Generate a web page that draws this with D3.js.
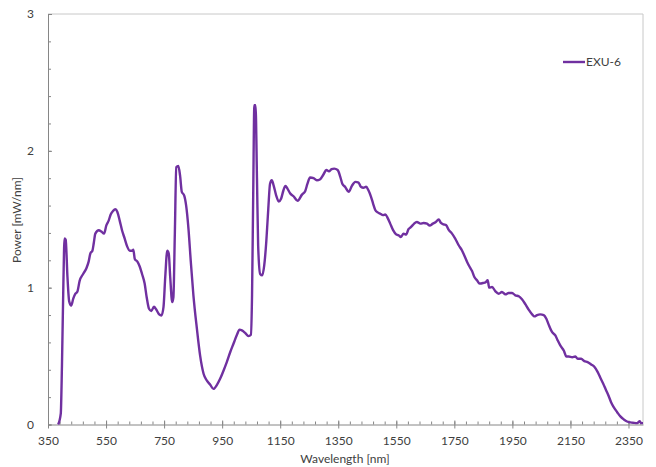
<!DOCTYPE html>
<html>
<head>
<meta charset="utf-8">
<script src="https://cdn.jsdelivr.net/npm/d3@7"></script>
<style>
  body { margin: 0; background: #fff; }
  svg text { font-family: Lato, "Liberation Sans", sans-serif; fill: #404040; }
</style>
</head>
<body>
<figure id="chart" style="margin:0"></figure>
<script>
// Spectrum
const wavelength = [385, 394, 398, 403, 407, 411, 417, 423, 430, 437, 444, 451, 459, 471, 482, 490, 496, 503, 508, 513,
  525, 534, 543, 551, 559, 566, 574, 582, 589, 597, 605, 614, 623, 632, 640, 644, 649, 658, 666, 674,
  683, 690, 698, 706, 715, 723, 733, 741, 748, 754, 761, 766, 771, 778, 782, 787, 792, 799, 805, 811,
  819, 826, 834, 842, 851, 863, 874, 886, 897, 909, 920, 932, 943, 955, 966, 978, 989, 1001, 1010, 1018,
  1029, 1041, 1049, 1053, 1057, 1061, 1065, 1070, 1074, 1081, 1088, 1095, 1102, 1109, 1115, 1121, 1127, 1136, 1145, 1153,
  1161, 1168, 1175, 1184, 1196, 1210, 1225, 1236, 1244, 1253, 1265, 1276, 1288, 1299, 1309, 1318, 1327, 1336, 1348, 1357,
  1364, 1374, 1386, 1397, 1409, 1420, 1428, 1437, 1446, 1454, 1463, 1470, 1478, 1486, 1495, 1504, 1512, 1520, 1529, 1539,
  1550, 1558, 1566, 1575, 1584, 1592, 1601, 1610, 1621, 1633, 1644, 1656, 1665, 1676, 1685, 1696, 1704, 1713, 1722, 1730,
  1742, 1753, 1765, 1776, 1784, 1794, 1803, 1811, 1819, 1828, 1837, 1849, 1858, 1865, 1870, 1880, 1891, 1903, 1914, 1926,
  1937, 1949, 1960, 1972, 1983, 1995, 2006, 2018, 2026, 2035, 2046, 2058, 2067, 2075, 2087, 2098, 2106, 2115, 2127, 2136,
  2144, 2156, 2167, 2175, 2187, 2198, 2209, 2221, 2233, 2244, 2253, 2263, 2272, 2281, 2290, 2299, 2311, 2322, 2334, 2345,
  2357, 2368, 2380, 2389, 2393, 2400];
const power = [0.00, 0.08, 0.42, 1.03, 1.36, 1.35, 1.08, 0.90, 0.87, 0.92, 0.955, 0.97, 1.05, 1.10, 1.14, 1.19, 1.25, 1.27, 1.33, 1.395,
  1.42, 1.41, 1.395, 1.455, 1.49, 1.535, 1.56, 1.573, 1.553, 1.49, 1.42, 1.36, 1.30, 1.27, 1.27, 1.277, 1.21, 1.19, 1.155, 1.10,
  1.03, 0.93, 0.846, 0.83, 0.86, 0.84, 0.805, 0.797, 0.86, 1.08, 1.27, 1.25, 1.08, 0.895, 0.93, 1.395, 1.88, 1.89, 1.82, 1.70,
  1.675, 1.60, 1.43, 1.19, 0.944, 0.70, 0.505, 0.371, 0.322, 0.29, 0.26, 0.29, 0.334, 0.395, 0.456, 0.53, 0.59, 0.656, 0.693, 0.688,
  0.67, 0.646, 0.656, 0.944, 1.675, 2.334, 2.334, 1.80, 1.31, 1.10, 1.09, 1.163, 1.334, 1.578, 1.76, 1.785, 1.75, 1.675, 1.63, 1.65,
  1.71, 1.744, 1.724, 1.69, 1.668, 1.635, 1.68, 1.705, 1.76, 1.805, 1.80, 1.785, 1.793, 1.827, 1.86, 1.85, 1.866, 1.87, 1.86, 1.81,
  1.76, 1.736, 1.70, 1.744, 1.773, 1.768, 1.737, 1.73, 1.737, 1.712, 1.664, 1.615, 1.566, 1.55, 1.54, 1.53, 1.535, 1.51, 1.468, 1.42,
  1.388, 1.383, 1.37, 1.395, 1.388, 1.427, 1.444, 1.465, 1.48, 1.468, 1.473, 1.468, 1.454, 1.468, 1.478, 1.498, 1.473, 1.463, 1.456, 1.424,
  1.395, 1.359, 1.31, 1.273, 1.237, 1.188, 1.151, 1.122, 1.078, 1.054, 1.03, 1.034, 1.04, 1.054, 1.0, 1.005, 0.975, 0.956, 0.968, 0.951,
  0.961, 0.961, 0.944, 0.937, 0.915, 0.878, 0.84, 0.805, 0.79, 0.80, 0.805, 0.80, 0.773, 0.73, 0.675, 0.651, 0.615, 0.578, 0.541, 0.497,
  0.497, 0.492, 0.497, 0.48, 0.48, 0.463, 0.456, 0.439, 0.42, 0.383, 0.342, 0.298, 0.254, 0.212, 0.163, 0.127, 0.09, 0.059, 0.037, 0.022,
  0.015, 0.012, 0.01, 0.024, 0.01, 0.01];

const seriesName = "EXU-6";
const xTicks = [350, 550, 750, 950, 1150, 1350, 1550, 1750, 1950, 2150, 2350];
const yTicks = [0, 1, 2, 3];

const width = 656;
const height = 467;
const plotLeft = 48, plotRight = 643, plotTop = 14, plotBottom = 424.5;

const svg = d3.select("figure#chart")
  .append("svg")
  .attr("width", width)
  .attr("height", height);

const x = d3.scaleLinear().domain([350, 2400]).range([plotLeft, plotRight]);
const y = d3.scaleLinear().domain([0, 3]).range([plotBottom, plotTop]);

// plot area frame (top and right)
svg.append("path")
  .attr("d", `M${plotLeft},${plotTop}H${plotRight}V${plotBottom}`)
  .attr("fill", "none")
  .attr("stroke", "#c8c8c8")
  .attr("stroke-width", 1);

// minor ticks every 40 nm and 0.2 mW/nm, inside
const xMinor = d3.range(350, 2400.1, 40);
svg.append("g")
  .attr("transform", `translate(0,${plotBottom})`)
  .call(d3.axisBottom(x).tickValues(xMinor).tickSize(-3).tickFormat(""))
  .call(g => g.select(".domain").remove())
  .selectAll("line").attr("stroke", "#868686");

const yMinor = d3.range(0, 3.01, 0.2);
svg.append("g")
  .attr("transform", `translate(${plotLeft},0)`)
  .call(d3.axisLeft(y).tickValues(yMinor).tickSize(-3).tickFormat(""))
  .call(g => g.select(".domain").remove())
  .selectAll("line").attr("stroke", "#868686");

// x axis, major ticks cross the line
const xAxis = svg.append("g")
  .attr("transform", `translate(0,${plotBottom})`)
  .call(d3.axisBottom(x).tickValues(xTicks).tickFormat(d3.format("d"))
    .tickSizeInner(4).tickSizeOuter(0).tickPadding(8));
xAxis.select(".domain").attr("stroke", "#868686");
xAxis.selectAll(".tick line").attr("y1", -4).attr("y2", 4).attr("stroke", "#868686");
xAxis.selectAll("text").style("font-size", "12px").attr("fill", "#404040");

const yAxis = svg.append("g")
  .attr("transform", `translate(${plotLeft},0)`)
  .call(d3.axisLeft(y).tickValues(yTicks).tickFormat(d3.format("d"))
    .tickSizeInner(-4).tickSizeOuter(0).tickPadding(14));
yAxis.select(".domain").attr("stroke", "#868686");
yAxis.selectAll(".tick line").attr("stroke", "#868686");
yAxis.selectAll("text").style("font-size", "12px").attr("fill", "#404040");

// axis titles
svg.append("text")
  .attr("x", 345)
  .attr("y", 463)
  .style("text-anchor", "middle")
  .style("font-size", "12px")
  .text("Wavelength [nm]");

svg.append("text")
  .attr("transform", "translate(21,220) rotate(-90)")
  .style("text-anchor", "middle")
  .style("font-size", "12px")
  .text("Power [mW/nm]");

// the spectrum
const points = wavelength.map((w, i) => [w, power[i]]);
const line = d3.line()
  .x(d => x(d[0]))
  .y(d => y(d[1]))
  .curve(d3.curveMonotoneX);

svg.append("path")
  .datum(points)
  .attr("d", line)
  .attr("fill", "none")
  .attr("stroke", "#7030A0")
  .attr("stroke-width", 2.4)
  .attr("stroke-linejoin", "round");

// legend
const legend = svg.append("g").attr("transform", "translate(563,62)");
legend.append("line")
  .attr("x1", 0).attr("x2", 22)
  .attr("stroke", "#7030A0")
  .attr("stroke-width", 2.4);
legend.append("text")
  .attr("x", 23)
  .attr("dy", "0.35em")
  .style("font-size", "12px")
  .text(seriesName);
</script>
</body>
</html>
